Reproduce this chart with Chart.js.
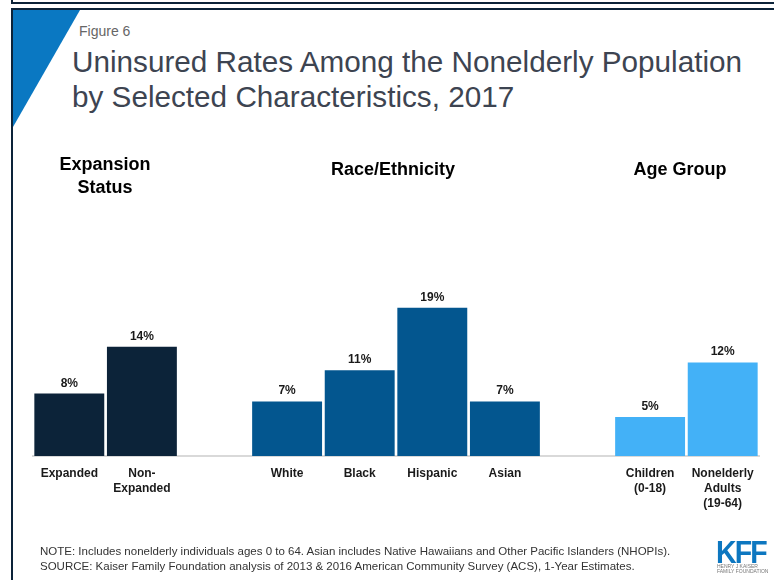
<!DOCTYPE html>
<html>
<head>
<meta charset="utf-8">
<script src="https://cdn.jsdelivr.net/npm/chart.js@4"></script>
<style>
  body { margin: 0; background: #fff; font-family: "Liberation Sans", Arial, sans-serif; }
  #page { position: relative; width: 774px; height: 580px; overflow: hidden; }
  .abs { position: absolute; white-space: nowrap; }
  .head { font-weight: bold; font-size: 18px; color: #000; text-align: center; line-height: 23px; }
</style>
</head>
<body>
<div id="page">
  <!-- frame from the slide -->
  <div class="abs" style="left:11px;top:0;width:2px;height:3px;background:#0c2339"></div>
  <div class="abs" style="left:11px;top:2px;width:763px;height:2px;background:#0c2339"></div>
  <div class="abs" style="left:11px;top:8px;width:763px;height:2px;background:#0c2339"></div>
  <div class="abs" style="left:11px;top:8px;width:2px;height:572px;background:#0c2339"></div>
  <svg class="abs" style="left:0;top:0" width="774" height="140">
    <polygon points="13,10 80,10 13,127" fill="#0a78c2"></polygon>
  </svg>

  <div class="abs" style="left:79px;top:23px;font-size:14px;color:#666">Figure 6</div>
  <div class="abs" style="left:72px;top:44px;font-size:29.7px;line-height:35px;color:#3d4451">Uninsured Rates Among the Nonelderly Population<br>by Selected Characteristics, 2017</div>

  <canvas id="chart" width="774" height="580" class="abs" style="left:0;top:0"></canvas>

  <div class="abs head" style="left:45px;top:153px;width:120px">Expansion<br>Status</div>
  <div class="abs head" style="left:293px;top:158px;width:200px">Race/Ethnicity</div>
  <div class="abs head" style="left:600px;top:158px;width:160px">Age Group</div>

  <div class="abs" style="left:40px;top:544px;font-size:11.5px;line-height:15px;color:#333">NOTE: Includes nonelderly individuals ages 0 to 64. Asian includes Native Hawaiians and Other Pacific Islanders (NHOPIs).<br>SOURCE: Kaiser Family Foundation analysis of 2013 &amp; 2016 American Community Survey (ACS), 1-Year Estimates.</div>

  <div class="abs" style="left:716px;top:535px;font-size:31px;font-weight:bold;color:#0d77c0;letter-spacing:-2px;transform:scaleX(0.92);transform-origin:left">KFF</div>
  <div class="abs" style="left:717px;top:564px;font-size:5px;line-height:5px;color:#777">HENRY J KAISER<br>FAMILY FOUNDATION</div>
</div>

<script>
// categories (empty slots keep the gaps between groups)
const categories = [
  "Expanded", ["Non-", "Expanded"], "",
  "White", "Black", "Hispanic", "Asian", "",
  ["Children", "(0-18)"], ["Nonelderly", "Adults", "(19-64)"]
];
const uninsuredRates = [8, 14, null, 7, 11, 19, 7, null, 5, 12];
const barColors = [
  "#0c2339", "#0c2339", "#fff",
  "#03568f", "#03568f", "#03568f", "#03568f", "#fff",
  "#43b1f7", "#43b1f7"
];

const valueLabels = {
  id: "valueLabels",
  afterDatasetsDraw(chart) {
    const ctx = chart.ctx;
    const meta = chart.getDatasetMeta(0);
    ctx.save();
    ctx.font = "bold 12px 'Liberation Sans', Arial, sans-serif";
    ctx.fillStyle = "#1a1a1a";
    ctx.textAlign = "center";
    ctx.textBaseline = "alphabetic";
    meta.data.forEach((bar, i) => {
      const v = uninsuredRates[i];
      if (v === null) return;
      ctx.fillText(v + "%", bar.x, bar.y - 7);
    });
    ctx.restore();
  }
};

new Chart(document.getElementById("chart"), {
  type: "bar",
  data: {
    labels: categories,
    datasets: [{
      data: uninsuredRates,
      backgroundColor: barColors,
      barPercentage: 0.963,
      categoryPercentage: 1
    }]
  },
  options: {
    responsive: false,
    animation: false,
    events: [],
    layout: { padding: { top: 300, left: 33, right: 15, bottom: 0 } },
    plugins: { legend: { display: false }, tooltip: { enabled: false } },
    scales: {
      x: {
        grid: { display: false },
        border: { color: "#d9d9d9", width: 2 },
        ticks: {
          color: "#1a1a1a",
          padding: 2,
          maxRotation: 0,
          autoSkip: false,
          font: { family: "'Liberation Sans', Arial, sans-serif", size: 12, weight: "bold", lineHeight: 1.25 }
        },
        afterFit(scale) { scale.height = 124; }
      },
      y: {
        display: false,
        min: 0,
        max: 20
      }
    }
  },
  plugins: [valueLabels]
});
</script>
</body>
</html>
